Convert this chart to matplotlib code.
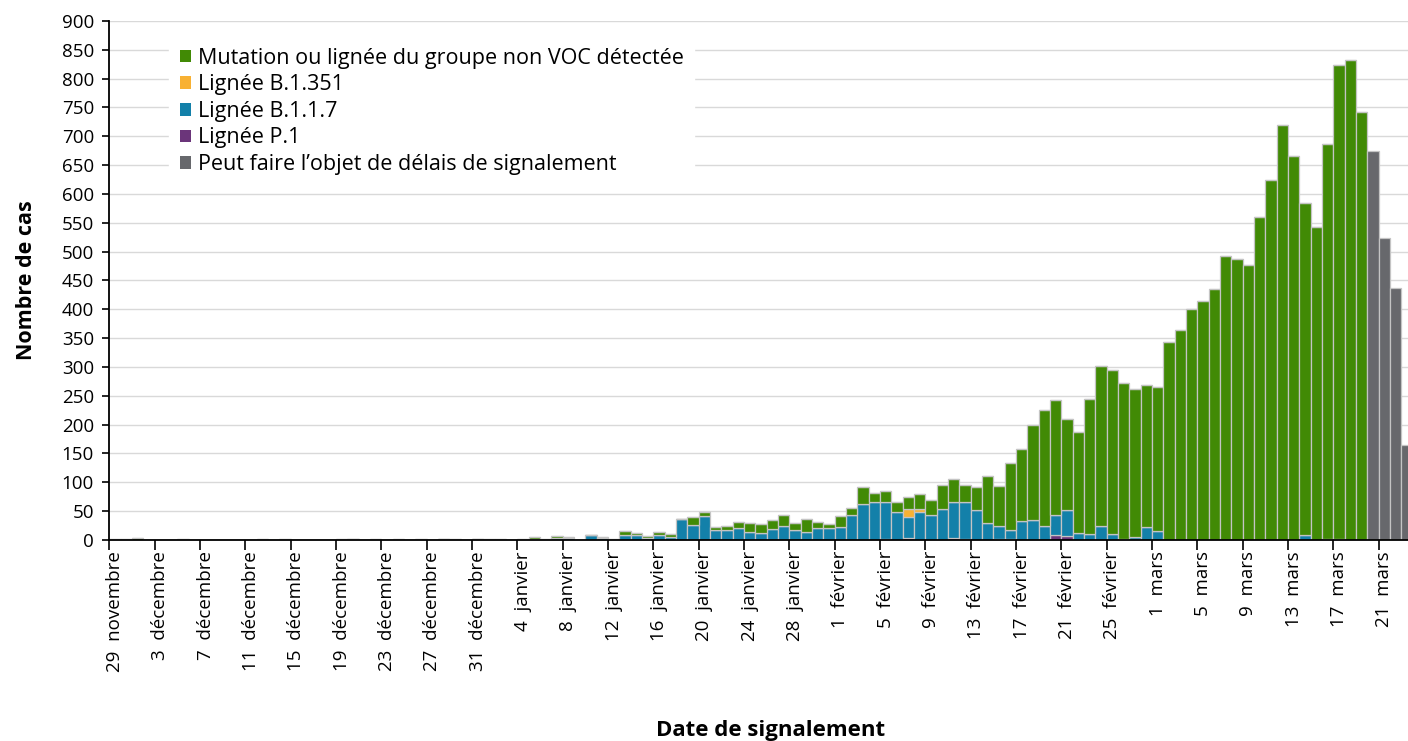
import matplotlib
matplotlib.use("Agg")
import matplotlib.pyplot as plt
import numpy as np

plt.rcParams['font.family'] = ['Open Sans', 'DejaVu Sans']

# one value per day, 29 novembre 2020 -> 23 mars 2021
lignee_p1 = [0] * 68 + [1, 0, 3, 0, 0, 0, 4, 2, 0, 0, 2, 2, 0, 0, 0, 9, 7] + [0] * 30

lignee_b117 = [
    0, 0, 0, 0, 0, 0, 0, 0, 0, 0, 0, 0, 0, 0, 0, 0, 0, 0, 0, 0,
    0, 2, 0, 0, 0, 0, 0, 0, 0, 2, 0, 0, 2, 0, 0, 0, 0, 2, 0, 4,
    4, 0, 8, 3, 0, 9, 8, 4, 8, 5, 36, 26, 41, 18, 18, 21, 14, 12, 19, 24,
    17, 14, 21, 21, 23, 44, 63, 66, 65, 49, 36, 49, 44, 54, 62, 63, 52, 29, 22, 15,
    33, 34, 24, 34, 45, 12, 10, 24, 10, 2, 5, 23, 16, 0, 0, 0, 0, 0, 0, 0,
    0, 0, 0, 0, 0, 9, 0, 1, 2, 0, 0, 0, 0, 0, 0,
]

lignee_b1351 = [0] * 70 + [14, 5] + [0] * 43

non_voc = [
    1, 1, 3, 0, 0, 0, 1, 0, 0, 0, 0, 0, 0, 1, 0, 1, 0, 0, 0, 0,
    1, 0, 0, 2, 0, 2, 0, 1, 0, 0, 2, 0, 0, 2, 2, 0, 2, 3, 2, 3,
    1, 0, 1, 3, 1, 6, 4, 3, 5, 5, 1, 13, 7, 4, 7, 10, 15, 16, 16, 19,
    12, 22, 10, 7, 18, 12, 28, 15, 19, 16, 21, 25, 26, 42, 40, 31, 40, 82, 70, 116,
    125, 166, 201, 200, 158, 175, 235, 277, 284, 270, 256, 245, 250, 343, 364, 400, 414, 435, 492, 487,
    477, 560, 625, 719, 665, 576, 543, 685, 821, 833, 743, 0, 0, 0, 0,
]

delais = [0] * 111 + [674, 523, 437, 164]

tick_labels = [
    "29  novembre", "3  décembre", "7  décembre", "11  décembre", "15  décembre",
    "19  décembre", "23  décembre", "27  décembre", "31  décembre",
    "4  janvier", "8  janvier", "12  janvier", "16  janvier", "20  janvier",
    "24  janvier", "28  janvier", "1  février", "5  février", "9  février",
    "13  février", "17  février", "21  février", "25  février",
    "1  mars", "5  mars", "9  mars", "13  mars", "17  mars", "21  mars",
]

series = [
    ("Lignée P.1", lignee_p1, "#6b357a"),
    ("Lignée B.1.1.7", lignee_b117, "#1380a9"),
    ("Lignée B.1.351", lignee_b1351, "#f8b133"),
    ("Mutation ou lignée du groupe non VOC détectée", non_voc, "#418a05"),
    ("Peut faire l\u2019objet de délais de signalement", delais, "#67686c"),
]

fig = plt.figure(figsize=(14.08, 7.41), dpi=100)
ax = fig.add_axes([0.0776, 0.2713, 0.9224, 0.7004])

x = np.arange(len(non_voc))
bottom = np.zeros(len(x))
handles = {}
for name, vals, col in series:
    vals = np.array(vals, dtype=float)
    b = ax.bar(x, vals, width=1.0, bottom=bottom, color=col,
               edgecolor="#c4c4c4", linewidth=0.9, label=name, zorder=2)
    handles[name] = b
    bottom += vals

ax.set_xlim(-0.5, 114.1)
ax.set_ylim(0, 900)
ax.set_yticks(np.arange(0, 901, 50))
ax.yaxis.grid(True, color="#d9d9d9", linewidth=1.0, zorder=0)
ax.set_axisbelow(True)

# tick marks between categories, labels on the labelled day
ax.set_xticks(np.arange(-0.5, 115, 4))
ax.set_xticklabels([])
ax.set_xticks(np.arange(0, 113, 4), minor=True)
ax.set_xticklabels(tick_labels, minor=True, rotation=90, fontsize=13.5, va="top", ha="center")
ax.tick_params(axis="x", which="major", length=7, width=1.2, direction="out")
ax.tick_params(axis="x", which="minor", length=0, pad=8)
ax.tick_params(axis="y", labelsize=13.5, length=5, width=1.2, pad=6)

for s in ["top", "right"]:
    ax.spines[s].set_visible(False)
ax.spines["left"].set_linewidth(1.3)
ax.spines["bottom"].set_linewidth(1.3)

order = [
    "Mutation ou lignée du groupe non VOC détectée",
    "Lignée B.1.351",
    "Lignée B.1.1.7",
    "Lignée P.1",
    "Peut faire l\u2019objet de délais de signalement",
]
leg = ax.legend([handles[n] for n in order], order, loc="upper left",
                bbox_to_anchor=(0.038, 0.99), fontsize=15.5, frameon=True,
                facecolor="white", edgecolor="white", framealpha=1.0, fancybox=False,
                handlelength=0.52, handleheight=0.52, handletextpad=0.3,
                labelspacing=0.26, borderpad=0.5)
for h in leg.legend_handles:
    h.set_edgecolor("none")

ax.set_ylabel("Nombre de cas", fontsize=15.5, fontweight="bold", labelpad=18)
fig.text(0.547, 0.0, "Date de signalement", fontsize=16, fontweight="bold", ha="center", va="bottom")

fig.savefig("out.png", dpi=100)
